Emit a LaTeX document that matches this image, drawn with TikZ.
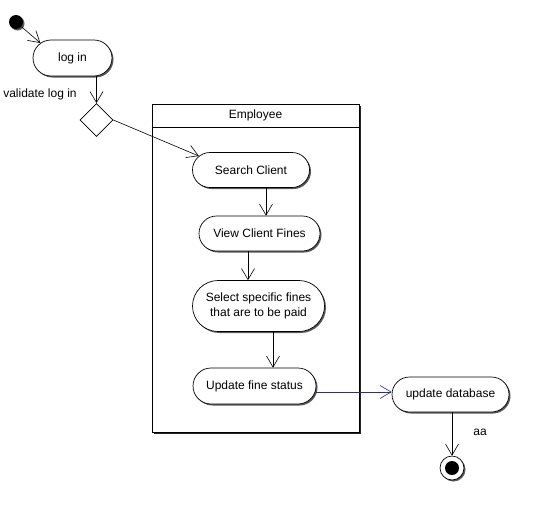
\documentclass[tikz,border=0pt]{standalone}
\usepackage{fontspec}
\setmainfont{Liberation Sans}
\usetikzlibrary{shapes.misc,shapes.geometric,arrows.meta,shadows}
\definecolor{flowblue}{RGB}{40,40,170}
\begin{document}
\begin{tikzpicture}[x=1pt,y=-1pt,font=\fontsize{12}{14.5}\selectfont,
  shad/.style={drop shadow={shadow xshift=1.5pt,shadow yshift=-1.5pt,fill=black!65,opacity=1}},
  act/.style={rounded rectangle,draw,fill=white,line width=0.7pt,shad,align=center,inner sep=0pt},
  flow/.style={-{Straight Barb[length=11pt,width=13pt]},line width=0.6pt}]
\useasboundingbox[fill=white] (0,0) rectangle (545,506);
% swimlane
\node[draw,fill=white,line width=0.8pt,minimum width=207pt,minimum height=328pt,inner sep=0pt,
  drop shadow={shadow xshift=2pt,shadow yshift=-2pt,fill=black!85,opacity=1}] (lane) at (255.5,268) {};
\draw[line width=0.7pt] ([yshift=-24pt]lane.north west) -- ([yshift=-24pt]lane.north east);
\node (lanetitle) at (255.5,115) {Employee};
% nodes
\node[circle,fill=black,minimum size=14pt,inner sep=0pt,shad] (start) at (16,22) {};
\node[act,minimum width=79pt,minimum height=36pt] (login) at (72.5,58) {log in};
\node[diamond,draw,fill=white,line width=0.7pt,minimum width=33pt,minimum height=33pt,inner sep=0pt] (dec) at (96.5,120) {};
\node (vlabel) at (40,94) {validate log in};
\node[act,minimum width=117pt,minimum height=35pt] (search) at (251,170) {Search Client};
\node[act,minimum width=121pt,minimum height=35pt] (view) at (259.5,233.5) {View Client Fines};
\node[act,minimum width=132pt,minimum height=51pt] (select) at (258.5,306) {Select specific fines\\that are to be paid};
\node[act,minimum width=123pt,minimum height=36pt] (update) at (254.5,386) {Update fine status};
\node[act,minimum width=117pt,minimum height=35pt] (db) at (450.5,394.5) {update database};
\node[circle,draw,fill=white,line width=0.7pt,minimum size=24pt,inner sep=0pt,shad] (final) at (452,468) {};
\fill (final.center) circle (7pt);
\node (aa) at (480,432) {aa};
% connectors
\draw[flow] (start) -- (login.155);
\draw[flow] (login.south -| dec.north) -- (dec.north);
\draw[flow] (dec.east) -- (search.165);
\draw[flow] ([xshift=15pt]search.south) -- ([xshift=15pt]search.south |- view.north);
\draw[flow] ([xshift=-11.5pt]view.south) -- ([xshift=-11.5pt]view.south |- select.north);
\draw[flow] ([xshift=14.5pt]select.south) -- ([xshift=14.5pt]select.south |- update.north);
\draw[flow,flowblue] ([yshift=-6pt]update.east) -- ([yshift=-6pt]update.east -| db.west);
\draw[flow] (db.south -| final.north) -- (final.north);
\end{tikzpicture}
\end{document}
